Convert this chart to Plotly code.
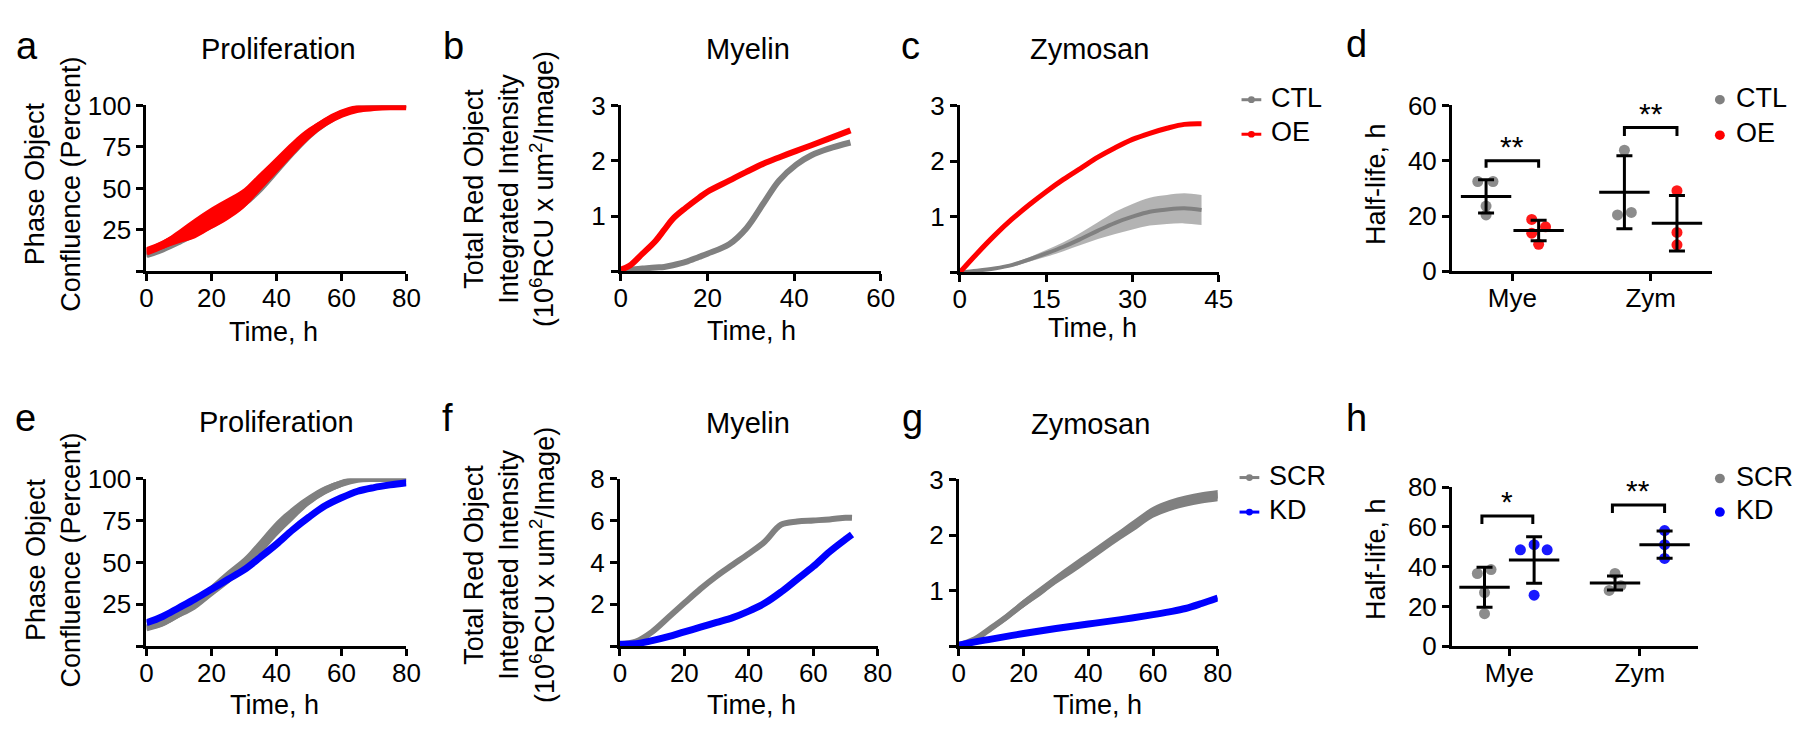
import plotly.graph_objects as go

W, H = 1800, 731
FONT = "Liberation Sans, Arial, sans-serif"
GRAY = "rgb(128,128,128)"
RED = "rgb(255,0,0)"
BLUE = "rgb(0,0,255)"

# ---------------- data ----------------
# a: proliferation, CTL vs OE
t_a = [0, 5, 10, 15, 20, 25, 30, 35, 40, 45, 50, 55, 60, 65, 70, 75, 80]
a_ctl = [10, 13.5, 18, 23, 28, 34, 41, 50, 61, 72, 82, 89.5, 95, 98, 99.5, 100, 100]
a_ctl_sd = [1.5, 1.5, 1.5, 2, 2, 2, 2, 2, 2, 2, 2, 1.5, 1.5, 1, 1, 1, 1]
a_oe = [12, 16, 21, 26, 32, 37.5, 44, 54, 64, 74, 83, 90, 95, 98, 99, 99.5, 99.5]
a_oe_sd = [2, 2.5, 4, 6, 6.5, 6.5, 6, 5.5, 5, 4.5, 3.5, 2.5, 2, 1.5, 1, 1, 1]

# b: myelin, CTL vs OE
t_b = [0, 2, 5, 8, 10, 12, 15, 18, 20, 25, 29, 33, 36.5, 40.5, 44, 48, 53]
b_ctl = [0.02, 0.03, 0.05, 0.07, 0.08, 0.11, 0.17, 0.26, 0.32, 0.49, 0.78, 1.24, 1.64, 1.93, 2.1, 2.22, 2.33]
b_oe = [0.03, 0.1, 0.32, 0.55, 0.75, 0.95, 1.15, 1.33, 1.44, 1.64, 1.8, 1.95, 2.06, 2.18, 2.28, 2.4, 2.55]

# c: zymosan, CTL vs OE
t_c = [0, 3, 6, 9, 12, 15, 18, 21, 24, 27, 30, 33, 36, 39, 42]
c_ctl = [0, 0.03, 0.07, 0.13, 0.23, 0.34, 0.46, 0.6, 0.75, 0.89, 1.0, 1.09, 1.13, 1.15, 1.12]
c_ctl_sd = [0, 0.01, 0.02, 0.03, 0.04, 0.06, 0.08, 0.11, 0.15, 0.2, 0.23, 0.25, 0.26, 0.27, 0.27]
c_oe = [0, 0.34, 0.66, 0.95, 1.21, 1.45, 1.67, 1.87, 2.07, 2.24, 2.39, 2.5, 2.59, 2.66, 2.67]

# d: half-life, CTL vs OE
d_ctl_mye = [32.5, 32.5, 23.6, 20.4]
d_oe_mye = [18.8, 16.1, 13.8, 9.8]
d_ctl_zym = [43.8, 20.4, 21.3]
d_oe_zym = [29.2, 14.1, 9.6]
d_mean = {"ctl": [27.1, 28.6], "oe": [14.8, 17.4]}
d_sd = {"ctl": [6.0, 13.2], "oe": [3.7, 10.0]}
d_sig = ["**", "**"]

# e: proliferation, SCR vs KD
t_e = [0, 5, 10, 15, 20, 25, 30, 35, 40, 45, 50, 55, 60, 65, 70, 75, 80]
e_scr = [11, 14, 19.5, 25, 33, 41, 49, 59, 70, 79, 87, 93, 97, 99.5, 100, 100, 100]
e_scr_sd = [1.5, 2, 2.5, 3, 3.5, 4, 4, 4.5, 4.5, 4, 3, 2.5, 2, 1.5, 1, 1, 1]
e_kd = [14, 17.8, 23, 28.3, 34, 39.8, 45.5, 53, 60.8, 69.4, 77, 83.7, 88.5, 92.4, 94.6, 96.2, 97.5]

# f: myelin, SCR vs KD
t_f = [0, 5, 10, 15, 20, 25, 30, 35, 40, 45, 50, 55, 60, 65, 70, 72]
f_scr = [0.1, 0.23, 0.69, 1.37, 2.06, 2.74, 3.35, 3.89, 4.42, 5.0, 5.8, 5.95, 6.0, 6.05, 6.13, 6.13]
f_kd = [0.1, 0.12, 0.27, 0.46, 0.69, 0.91, 1.14, 1.37, 1.68, 2.06, 2.59, 3.2, 3.81, 4.5, 5.1, 5.33]

# g: zymosan, SCR vs KD
t_g = [0, 5, 10, 15, 20, 25, 30, 35, 40, 45, 50, 55, 60, 65, 70, 75, 80]
g_scr = [0.02, 0.13, 0.33, 0.54, 0.77, 0.98, 1.2, 1.4, 1.6, 1.81, 2.01, 2.21, 2.41, 2.53, 2.61, 2.67, 2.71]
g_scr_sd = [0.01, 0.03, 0.05, 0.06, 0.07, 0.08, 0.08, 0.09, 0.09, 0.09, 0.09, 0.1, 0.1, 0.1, 0.1, 0.1, 0.1]
t_g_kd = [0, 5, 10, 20, 30, 40, 50, 60, 65, 70, 75, 80]
g_kd = [0.02, 0.08, 0.13, 0.23, 0.32, 0.4, 0.48, 0.57, 0.62, 0.68, 0.77, 0.87]

# h: half-life, SCR vs KD
h_scr_mye = [36.6, 38.6, 27.0, 16.4]
h_kd_mye = [48.5, 51.1, 48.5, 25.7]
h_scr_zym = [36.6, 28.1, 30.5]
h_kd_zym = [58.2, 51.1, 44.2]
h_mean = {"scr": [29.7, 31.8], "kd": [43.4, 51.1]}
h_sd = {"scr": [10.0, 3.5], "kd": [11.7, 6.8]}
h_sig = ["*", "**"]

categories = ["Mye", "Zym"]

# ---------------- layout helpers ----------------
# plot boxes in pixels: x0, x1, y0 (top), y1 (bottom)
BOX = {1: (133, 396, 86, 259), 2: (613, 876, 86, 259), 3: (956, 1218, 86, 260),
       4: (1454, 1717, 86, 259), 5: (133, 396, 475, 650), 6: (612, 873, 475, 650),
       7: (955, 1217, 476, 650), 8: (1454, 1703, 484, 650)}


def px(x):
    return x / W


def py(y):
    return 1 - y / H


fig = go.Figure()


def ref(i, kind):
    return kind if i == 1 else f"{kind}{i}"


def setup_axes(i, xrange, yrange, xticks, yticks, ytext, xtext=None):
    x0, x1, y0, y1 = BOX[i]
    common = dict(showline=True, linecolor="black", linewidth=3, ticks="outside",
                  ticklen=7, tickwidth=3, tickcolor="black", showgrid=False, zeroline=False,
                  tickfont=dict(family=FONT, size=26, color="black"))
    fig.update_layout({
        ref(i, "xaxis"): dict(domain=[px(x0), px(x1)], range=xrange, anchor=ref(i, "y"),
                              tickvals=xticks, ticktext=xtext or [str(v) for v in xticks],
                              ticklabelstandoff=-6, **common),
        ref(i, "yaxis"): dict(domain=[py(y1), py(y0)], range=yrange, anchor=ref(i, "x"),
                              tickvals=yticks, ticktext=ytext, **common),
    })


def band(i, t, mean, sd, color):
    upper = [m + s for m, s in zip(mean, sd)]
    lower = [m - s for m, s in zip(mean, sd)]
    fig.add_trace(go.Scatter(x=t, y=upper, mode="lines", line=dict(width=0, shape="spline", color=color),
                             xaxis=ref(i, "x"), yaxis=ref(i, "y"), showlegend=False, hoverinfo="skip"))
    fig.add_trace(go.Scatter(x=t, y=lower, mode="lines", line=dict(width=0, shape="spline", color=color),
                             fill="tonexty", fillcolor=color,
                             xaxis=ref(i, "x"), yaxis=ref(i, "y"), showlegend=False, hoverinfo="skip"))


def line(i, t, mean, color, width=6):
    fig.add_trace(go.Scatter(x=t, y=mean, mode="lines", line=dict(color=color, width=width, shape="spline"),
                             xaxis=ref(i, "x"), yaxis=ref(i, "y"), showlegend=False, cliponaxis=False))


def dots(i, xc, vals, jitter, color):
    fig.add_trace(go.Scatter(x=[xc + j for j in jitter], y=vals, mode="markers",
                             marker=dict(size=11, color=color, opacity=0.9),
                             xaxis=ref(i, "x"), yaxis=ref(i, "y"), showlegend=False, cliponaxis=False))


def mean_sd(i, xs, means, sds):
    fig.add_trace(go.Scatter(x=xs, y=means, mode="markers",
                             marker=dict(symbol="line-ew", size=36, line=dict(width=3, color="black")),
                             error_y=dict(type="data", array=sds, color="black", thickness=3, width=8),
                             xaxis=ref(i, "x"), yaxis=ref(i, "y"), showlegend=False, cliponaxis=False))


def bracket(i, xa, xb, ytop, leg, label):
    fig.add_shape(type="path", xref=ref(i, "x"), yref=ref(i, "y"),
                  path=f"M {xa},{ytop - leg} L {xa},{ytop} L {xb},{ytop} L {xb},{ytop - leg}",
                  line=dict(color="black", width=3))
    fig.add_annotation(x=(xa + xb) / 2, y=ytop, xref=ref(i, "x"), yref=ref(i, "y"), text=label,
                       showarrow=False, yanchor="bottom", yshift=-4,
                       font=dict(family=FONT, size=30, color="black"))


def text(x, y, s, size=27, angle=0, xanchor="center"):
    fig.add_annotation(x=px(x), y=py(y), xref="paper", yref="paper", text=s, showarrow=False,
                       textangle=angle, xanchor=xanchor, yanchor="middle",
                       font=dict(family=FONT, size=size, color="black"))


def legend_line(x, y, color, label):
    fig.add_shape(type="line", xref="paper", yref="paper", x0=px(x - 10), x1=px(x + 10),
                  y0=py(y), y1=py(y), line=dict(color=color, width=3))
    fig.add_shape(type="circle", xref="paper", yref="paper", x0=px(x - 3.5), x1=px(x + 3.5),
                  y0=py(y + 3.5), y1=py(y - 3.5), fillcolor=color, line=dict(color=color, width=0))
    text(x + 18, y - 2, label, size=27, xanchor="left")


def legend_dot(x, y, color, label):
    fig.add_shape(type="circle", xref="paper", yref="paper", x0=px(x - 5), x1=px(x + 5),
                  y0=py(y + 5), y1=py(y - 5), fillcolor=color, line=dict(color=color, width=0))
    text(x + 14, y - 2, label, size=27, xanchor="left")


# ---------------- axes ----------------
pct_ticks = [0, 25, 50, 75, 100]
pct_text = ["", "25", "50", "75", "100"]
setup_axes(1, [0, 80], [0, 100], [0, 20, 40, 60, 80], pct_ticks, pct_text)
setup_axes(2, [0, 60], [0, 3], [0, 20, 40, 60], [0, 1, 2, 3], ["", "1", "2", "3"])
setup_axes(3, [0, 45], [0, 3], [0, 15, 30, 45], [0, 1, 2, 3], ["", "1", "2", "3"])
setup_axes(4, [0.564, 2.443], [0, 60], [1, 2], [0, 20, 40, 60], ["0", "20", "40", "60"], categories)
setup_axes(5, [0, 80], [0, 100], [0, 20, 40, 60, 80], pct_ticks, pct_text)
setup_axes(6, [0, 80], [0, 8], [0, 20, 40, 60, 80], [0, 2, 4, 6, 8], ["", "2", "4", "6", "8"])
setup_axes(7, [0, 80], [0, 3], [0, 20, 40, 60, 80], [0, 1, 2, 3], ["", "1", "2", "3"])
setup_axes(8, [0.561, 2.447], [0, 80], [1, 2], [0, 20, 40, 60, 80], ["0", "20", "40", "60", "80"], categories)

# ---------------- traces ----------------
# a
band(1, t_a, a_ctl, a_ctl_sd, GRAY)
line(1, t_a, a_ctl, GRAY, 7)
band(1, t_a, a_oe, a_oe_sd, RED)
line(1, t_a, a_oe, RED, 8)
# b
line(2, t_b, b_ctl, GRAY, 6)
line(2, t_b, b_oe, RED, 6)
# c
band(3, t_c, c_ctl, c_ctl_sd, "rgba(128,128,128,0.6)")
line(3, t_c, c_ctl, GRAY, 4)
line(3, t_c, c_oe, RED, 5)
# e
band(5, t_e, e_scr, e_scr_sd, GRAY)
line(5, t_e, e_scr, GRAY, 7)
line(5, t_e, e_kd, BLUE, 7)
# f
line(6, t_f, f_scr, GRAY, 6)
line(6, t_f, f_kd, BLUE, 7)
# g
band(7, t_g, g_scr, g_scr_sd, GRAY)
line(7, t_g, g_scr, GRAY, 6)
line(7, t_g_kd, g_kd, BLUE, 7)

# d
off = 0.19
dots(4, 1 - off, d_ctl_mye, [-0.06, 0.05, 0, 0], GRAY)
dots(4, 1 + off, d_oe_mye, [-0.05, 0.05, -0.05, 0], RED)
dots(4, 2 - off, d_ctl_zym, [0, -0.05, 0.05], GRAY)
dots(4, 2 + off, d_oe_zym, [0, 0, 0], RED)
mean_sd(4, [1 - off, 2 - off], d_mean["ctl"], d_sd["ctl"])
mean_sd(4, [1 + off, 2 + off], d_mean["oe"], d_sd["oe"])
bracket(4, 1 - off, 1 + off, 40, 2.5, d_sig[0])
bracket(4, 2 - off, 2 + off, 52, 3, d_sig[1])

# h
dots(8, 1 - off, h_scr_mye, [-0.055, 0.05, 0, 0], GRAY)
dots(8, 1 + off, h_kd_mye, [-0.105, 0, 0.1, 0], BLUE)
dots(8, 2 - off, h_scr_zym, [0, -0.045, 0.045], GRAY)
dots(8, 2 + off, h_kd_zym, [0, 0, 0], BLUE)
mean_sd(8, [1 - off, 2 - off], h_mean["scr"], h_sd["scr"])
mean_sd(8, [1 + off, 2 + off], h_mean["kd"], h_sd["kd"])
bracket(8, 1 - off - 0.02, 1 + off - 0.01, 65.5, 4, h_sig[0])
bracket(8, 2 - off - 0.02, 2 + off, 71, 4, h_sig[1])

# ---------------- text ----------------
for x, y, s in [(12, 24, "a"), (444, 24, "b"), (906, 24, "c"), (1357, 22, "d"),
                (11, 412, "e"), (438, 412, "f"), (908, 412, "g"), (1357, 412, "h")]:
    text(x, y, s, size=38)

for x, y, s in [(267, 27, "Proliferation"), (742, 27, "Myelin"), (1087, 27, "Zymosan"),
                (265, 416, "Proliferation"), (742, 417, "Myelin"), (1088, 418, "Zymosan")]:
    text(x, y, s, size=29)

for x, y in [(262, 322), (745, 321), (1090, 318), (263, 711), (745, 711), (1095, 711)]:
    text(x, y, "Time, h")

conf = "Phase Object<br>Confluence (Percent)"
intensity = "Total Red Object<br>Integrated Intensity<br>(10<sup>6</sup>RCU x um<sup>2</sup>/Image)"
text(38, 168, conf, angle=-90)
text(38, 560, conf, angle=-90)
text(500, 173, intensity, angle=-90)
text(500, 565, intensity, angle=-90)
text(1377, 168, "Half-life, h", angle=-90)
text(1377, 559, "Half-life, h", angle=-90)

legend_line(1251, 80, GRAY, "CTL")
legend_line(1251, 116, RED, "OE")
legend_line(1249, 474, GRAY, "SCR")
legend_line(1249, 510, BLUE, "KD")
legend_dot(1725, 80, GRAY, "CTL")
legend_dot(1725, 117, RED, "OE")
legend_dot(1725, 475, GRAY, "SCR")
legend_dot(1725, 510, BLUE, "KD")

fig.update_layout(width=W, height=H, margin=dict(l=0, r=0, t=0, b=0),
                  paper_bgcolor="white", plot_bgcolor="white", showlegend=False,
                  font=dict(family=FONT, color="black"))

fig.write_html("out.html")
